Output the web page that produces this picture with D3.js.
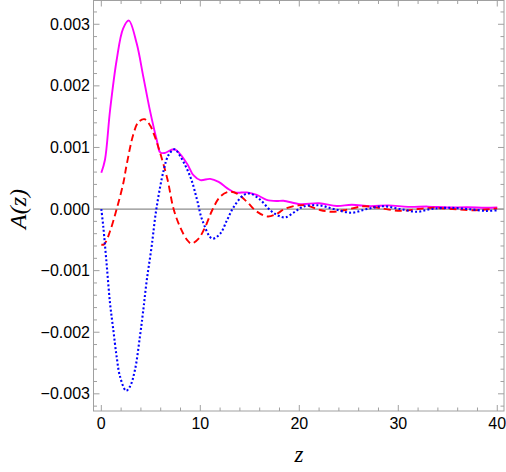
<!DOCTYPE html>
<html>
<head>
<meta charset="utf-8">
<script src="https://cdn.jsdelivr.net/npm/d3@7"></script>
<style>
  body { margin: 0; background: #fff; }
  svg { display: block; }
</style>
</head>
<body>
<svg id="chart" width="506" height="472"></svg>
<script>
// values, A in units of 1e-3
var zMag   = [0, 0.37, 0.88, 1.55, 2.2, 2.78, 3.57, 4.24, 4.9, 5.6, 5.95, 6.4, 7.4, 8.65, 9.3, 10.0, 11.0, 11.85, 12.7, 13.5, 14.7, 15.7, 16.7, 17.7, 18.4, 20.1, 22.0, 23.8, 25.3, 27.2, 29.0, 31.0, 33.0, 35.0, 37.0, 38.8, 40];
var magVals = [0.59, 0.80, 1.60, 2.42, 2.93, 3.06, 2.69, 2.15, 1.61, 1.12, 0.92, 0.91, 0.97, 0.74, 0.55, 0.47, 0.49, 0.44, 0.34, 0.27, 0.27, 0.23, 0.15, 0.13, 0.135, 0.08, 0.095, 0.05, 0.07, 0.045, 0.06, 0.035, 0.04, 0.025, 0.03, 0.02, 0.025];

var zRed   = [0, 0.3, 0.88, 1.55, 2.22, 2.56, 3.23, 3.74, 4.34, 4.92, 5.42, 5.93, 6.7, 7.3, 7.98, 8.66, 9.1, 9.83, 10.5, 11.2, 12.0, 12.9, 13.7, 14.7, 15.7, 16.8, 17.7, 18.5, 19.9, 20.8, 22.1, 23.3, 24.5, 26.5, 28.0, 30.2, 32.0, 33.6, 35.5, 37.6, 40];
var redVals = [-0.58, -0.57, -0.36, 0.0, 0.42, 0.72, 1.21, 1.41, 1.46, 1.36, 1.17, 0.92, 0.47, 0.0, -0.30, -0.50, -0.56, -0.48, -0.29, -0.02, 0.20, 0.28, 0.25, 0.12, -0.04, -0.12, -0.08, 0.0, 0.06, 0.055, -0.015, -0.045, -0.02, 0.045, 0.02, -0.03, 0.0, 0.02, 0.0, -0.02, 0.01];

var zBlue   = [0, 0.2, 0.54, 0.88, 1.21, 1.55, 1.89, 2.5, 2.9, 3.4, 3.9, 4.24, 4.58, 5.08, 5.56, 6.3, 6.8, 7.4, 8.0, 9.0, 9.67, 10.2, 11.2, 12.0, 12.7, 13.4, 14.4, 15.05, 16.06, 17.07, 17.9, 18.6, 19.5, 20.4, 22.0, 23.5, 25.3, 26.8, 28.5, 30.2, 31.9, 33.3, 35.0, 37.0, 38.9, 40];
var blueVals = [0, -0.29, -0.90, -1.53, -1.96, -2.40, -2.72, -2.95, -2.88, -2.61, -2.07, -1.64, -1.17, -0.61, 0, 0.63, 0.88, 0.97, 0.85, 0.52, 0.15, -0.18, -0.48, -0.40, -0.18, 0.04, 0.23, 0.25, 0.15, -0.02, -0.11, -0.135, -0.05, 0.04, 0.06, 0.0, -0.06, 0.0, 0.045, 0.0, -0.045, 0.0, 0.02, 0.0, -0.03, -0.02];

var xTicks = [0, 10, 20, 30, 40];
var yTicks = [-0.003, -0.002, -0.001, 0, 0.001, 0.002, 0.003];

(function(){
  var svg = d3.select("#chart"),
      pLeft = 93.5, pRight = 504, pTop = 0.5, pBottom = 411,
      frameColor = "#a0a0a0";

  var x = d3.scaleLinear().domain([-0.79, 40.68]).range([pLeft, pRight]);
  var y = d3.scaleLinear().domain([-0.003279, 0.003386]).range([pBottom, pTop]);

  // zero line
  svg.append("line")
      .attr("x1", pLeft).attr("x2", pRight)
      .attr("y1", y(0)).attr("y2", y(0))
      .attr("stroke", "#8c8c8c").attr("stroke-width", 1.2);

  svg.append("clipPath").attr("id", "clip")
    .append("rect").attr("x", pLeft).attr("y", pTop)
    .attr("width", pRight - pLeft).attr("height", pBottom - pTop);

  var line = d3.line()
      .x(function(d) { return x(d[0]); })
      .y(function(d) { return y(d[1] / 1000); })
      .curve(d3.curveCatmullRom.alpha(0.5));

  var curves = svg.append("g").attr("clip-path", "url(#clip)");

  curves.append("path")
      .datum(d3.zip(zMag, magVals))
      .attr("d", line)
      .attr("fill", "none")
      .attr("stroke", "#ff00ff")
      .attr("stroke-width", 1.9);

  curves.append("path")
      .datum(d3.zip(zRed, redVals))
      .attr("d", line)
      .attr("fill", "none")
      .attr("stroke", "#ff0000")
      .attr("stroke-width", 1.9)
      .attr("stroke-dasharray", "7,4");

  curves.append("path")
      .datum(d3.zip(zBlue, blueVals))
      .attr("d", line)
      .attr("fill", "none")
      .attr("stroke", "#0000ff")
      .attr("stroke-width", 2.1)
      .attr("stroke-dasharray", "2,2.2");

  // frame ticks, inward on all sides
  var fmt = function(v) { return v === 0 ? "0.000" : d3.format(".3f")(v).replace("-", "\u2212"); };

  var ax = svg.append("g");

  function tickSet(values, major) {
    var len = major ? 6 : 3.5;
    values.forEach(function(v) {
      ax.append("line").attr("x1", x(v)).attr("x2", x(v)).attr("y1", pBottom).attr("y2", pBottom - len)
        .attr("stroke", frameColor);
      ax.append("line").attr("x1", x(v)).attr("x2", x(v)).attr("y1", pTop).attr("y2", pTop + len)
        .attr("stroke", frameColor);
    });
  }
  function tickSetY(values, major) {
    var len = major ? 6 : 3.5;
    values.forEach(function(v) {
      ax.append("line").attr("y1", y(v)).attr("y2", y(v)).attr("x1", pLeft).attr("x2", pLeft + len)
        .attr("stroke", frameColor);
      ax.append("line").attr("y1", y(v)).attr("y2", y(v)).attr("x1", pRight).attr("x2", pRight - len)
        .attr("stroke", frameColor);
    });
  }

  tickSet(xTicks, true);
  tickSet(d3.range(0, 41, 2).filter(function(v) { return v % 10 !== 0; }), false);
  tickSetY(yTicks, true);
  tickSetY(d3.range(-32, 34, 2).map(function(v) { return v / 10000; })
    .filter(function(v) { return Math.abs(Math.round(v * 10000)) % 10 !== 0; }), false);

  svg.append("rect")
      .attr("x", pLeft).attr("y", pTop)
      .attr("width", pRight - pLeft).attr("height", pBottom - pTop)
      .attr("fill", "none").attr("stroke", frameColor).attr("stroke-width", 1);

  ax.selectAll(".xl").data(xTicks).enter().append("text")
      .attr("x", function(d) { return x(d); })
      .attr("y", 429)
      .attr("text-anchor", "middle")
      .style("font-family", "Liberation Sans, Arial, sans-serif")
      .style("font-size", "16px")
      .text(function(d) { return d; });

  ax.selectAll(".yl").data(yTicks).enter().append("text")
      .attr("x", 90)
      .attr("y", function(d) { return y(d); })
      .attr("dy", "0.35em")
      .attr("text-anchor", "end")
      .style("font-family", "Liberation Sans, Arial, sans-serif")
      .style("font-size", "16px")
      .text(fmt);

  // axis titles
  svg.append("text")
      .attr("x", 299).attr("y", 462)
      .attr("text-anchor", "middle")
      .style("font-family", "Liberation Serif, Times New Roman, serif")
      .style("font-style", "italic")
      .style("font-size", "23px")
      .text("z");

  svg.append("text")
      .attr("transform", "translate(26,209) rotate(-90)")
      .attr("text-anchor", "middle")
      .style("font-family", "Liberation Serif, Times New Roman, serif")
      .style("font-style", "italic")
      .style("font-size", "24px")
      .text("A(z)");
})();
</script>
</body>
</html>
